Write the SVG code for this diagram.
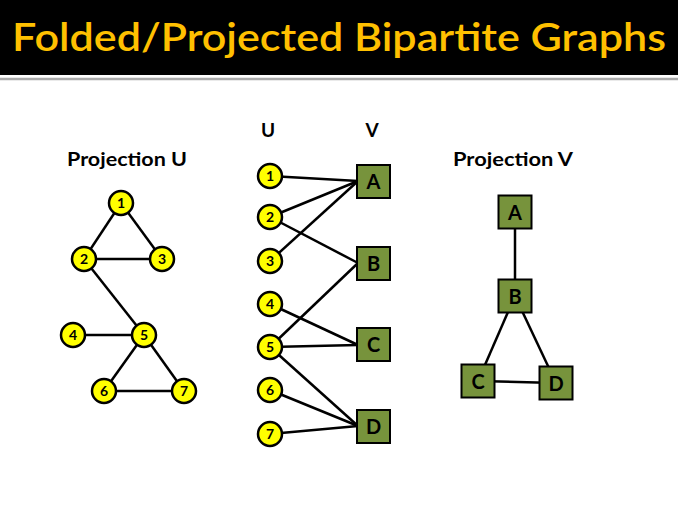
<svg xmlns="http://www.w3.org/2000/svg" width="678" height="515" viewBox="0 0 678 515">
<style>
.u circle{fill:#FFFF00;stroke:#000;stroke-width:2.5}
.u text{font-family:Lato,"Open Sans",sans-serif;font-weight:bold;font-size:14px;text-anchor:middle;fill:#000}
.v rect{fill:#77933C;stroke:#000;stroke-width:2}
.v text{font-family:Lato,"Open Sans",sans-serif;font-weight:bold;font-size:20px;text-anchor:middle;fill:#000}
.lbl{font-family:Lato,"Open Sans",sans-serif;font-weight:bold;font-size:19px;fill:#000}
#edges line{stroke:#000;stroke-width:2.5}
</style>
<rect x="0" y="0" width="678" height="75" fill="#000"/>
<line x1="0" y1="79" x2="678" y2="79" stroke="#aaa" stroke-width="2.5"/>
<text x="12" y="51" font-family="Lato,'Open Sans',sans-serif" font-weight="600" font-size="39" fill="#FFC000" textLength="654" lengthAdjust="spacingAndGlyphs">Folded/Projected Bipartite Graphs</text>

<text class="lbl" x="67" y="166" textLength="120" lengthAdjust="spacingAndGlyphs">Projection U</text>
<text class="lbl" x="268" y="137" text-anchor="middle">U</text>
<text class="lbl" x="372" y="137" text-anchor="middle">V</text>
<text class="lbl" x="453" y="166" textLength="120" lengthAdjust="spacingAndGlyphs">Projection V</text>

<g id="edges">
<line x1="121" y1="203" x2="84" y2="259"/>
<line x1="121" y1="203" x2="162" y2="259"/>
<line x1="84" y1="259" x2="162" y2="259"/>
<line x1="84" y1="259" x2="144" y2="335"/>
<line x1="73" y1="335" x2="144" y2="335"/>
<line x1="144" y1="335" x2="104" y2="391"/>
<line x1="144" y1="335" x2="184" y2="391"/>
<line x1="104" y1="391" x2="184" y2="391"/>

<line x1="270" y1="176" x2="358" y2="181"/>
<line x1="270" y1="217" x2="358" y2="181"/>
<line x1="270" y1="261" x2="358" y2="181"/>
<line x1="270" y1="217" x2="358" y2="263"/>
<line x1="270" y1="347" x2="358" y2="263"/>
<line x1="270" y1="304" x2="358" y2="345"/>
<line x1="270" y1="347" x2="358" y2="345"/>
<line x1="270" y1="347" x2="358" y2="426"/>
<line x1="270" y1="390" x2="358" y2="426"/>
<line x1="270" y1="434" x2="358" y2="426"/>

<line x1="515" y1="212" x2="515" y2="296"/>
<line x1="515" y1="296" x2="478" y2="381"/>
<line x1="515" y1="296" x2="556" y2="383"/>
<line x1="478" y1="381" x2="556" y2="383"/>
</g>

<g id="pu1" class="u"><circle cx="121" cy="203" r="12"/><text x="121" y="208">1</text></g>
<g id="pu2" class="u"><circle cx="84" cy="259" r="12"/><text x="84" y="264">2</text></g>
<g id="pu3" class="u"><circle cx="162" cy="259" r="12"/><text x="162" y="264">3</text></g>
<g id="pu4" class="u"><circle cx="73" cy="335" r="12"/><text x="73" y="340">4</text></g>
<g id="pu5" class="u"><circle cx="144" cy="335" r="12"/><text x="144" y="340">5</text></g>
<g id="pu6" class="u"><circle cx="104" cy="391" r="12"/><text x="104" y="396">6</text></g>
<g id="pu7" class="u"><circle cx="184" cy="391" r="12"/><text x="184" y="396">7</text></g>

<g id="u1" class="u"><circle cx="270" cy="176" r="12"/><text x="270" y="181">1</text></g>
<g id="u2" class="u"><circle cx="270" cy="217" r="12"/><text x="270" y="222">2</text></g>
<g id="u3" class="u"><circle cx="270" cy="261" r="12"/><text x="270" y="266">3</text></g>
<g id="u4" class="u"><circle cx="270" cy="304" r="12"/><text x="270" y="309">4</text></g>
<g id="u5" class="u"><circle cx="270" cy="347" r="12"/><text x="270" y="352">5</text></g>
<g id="u6" class="u"><circle cx="270" cy="390" r="12"/><text x="270" y="395">6</text></g>
<g id="u7" class="u"><circle cx="270" cy="434" r="12"/><text x="270" y="439">7</text></g>

<g id="vA" class="v"><rect x="357" y="165" width="33" height="33"/><text x="373.5" y="189">A</text></g>
<g id="vB" class="v"><rect x="357" y="247" width="33" height="33"/><text x="373.5" y="271">B</text></g>
<g id="vC" class="v"><rect x="357" y="328" width="33" height="33"/><text x="373.5" y="352">C</text></g>
<g id="vD" class="v"><rect x="357" y="410" width="33" height="33"/><text x="373.5" y="434">D</text></g>

<g id="pvA" class="v"><rect x="498.5" y="195.5" width="33" height="33"/><text x="515" y="219.5">A</text></g>
<g id="pvB" class="v"><rect x="498.5" y="279.5" width="33" height="33"/><text x="515" y="303.5">B</text></g>
<g id="pvC" class="v"><rect x="461.5" y="364.5" width="33" height="33"/><text x="478" y="388.5">C</text></g>
<g id="pvD" class="v"><rect x="539.5" y="366.5" width="33" height="33"/><text x="556" y="390.5">D</text></g>
</svg>
